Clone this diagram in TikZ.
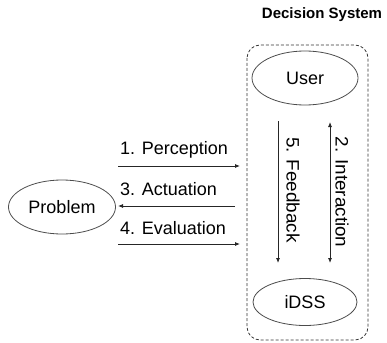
\documentclass[tikz,border=0pt]{standalone}
\usepackage{fontspec}
\setmainfont{Liberation Sans}
\usetikzlibrary{shapes.geometric,arrows.meta}
\begin{document}
\begin{tikzpicture}[x=1pt,y=-1pt,
  ell/.style={draw=black!70,line width=0.8pt,ellipse,inner sep=0pt,font=\fontsize{18}{20}\selectfont},
  lbl/.style={font=\fontsize{18}{20}\selectfont,inner sep=0pt},
  arr/.style={draw=black!85,line width=0.8pt,-{Latex[length=5pt,width=4pt]}},
  darr/.style={draw=black!85,line width=0.8pt,{Latex[length=5pt,width=4pt]}-{Latex[length=5pt,width=4pt]}}]
\useasboundingbox (0,0) rectangle (387,342);
\node[font=\bfseries\fontsize{15}{17}\selectfont,inner sep=0pt] (title) at (322,15) {Decision System};
\draw[black!80,line width=0.8pt,dash pattern=on 3pt off 2pt,rounded corners=13pt] (247,45) rectangle (368,340);
\node[ell,minimum width=106pt,minimum height=54pt] (user) at (305,78) {User};
\node[ell,minimum width=104pt,minimum height=47pt] (idss) at (305,302) {iDSS};
\node[ell,minimum width=107pt,minimum height=54pt] (problem) at (62,207) {Problem};
\coordinate (p1) at (118,166); \coordinate (p2) at (240,166);
\coordinate (a1) at (235,206); \coordinate (a2) at (118,206);
\coordinate (e1) at (118,244); \coordinate (e2) at (240,244);
\coordinate (f1) at (278,121); \coordinate (f2) at (278,263);
\coordinate (i1) at (330,263); \coordinate (i2) at (330,122);
\draw[arr] (p1) -- (p2);
\draw[arr] (a1) -- (a2);
\draw[arr] (e1) -- (e2);
\draw[arr] (f1) -- (f2);
\draw[darr] (i1) -- (i2);
\node[lbl,anchor=west] (lp) at (120,150) {1. Perception};
\node[lbl,anchor=west] (la) at (120,189) {3. Actuation};
\node[lbl,anchor=west] (le) at (120,228) {4. Evaluation};
\node[lbl,rotate=-90,xscale=1.05] (lf) at (293,190) {5. Feedback};
\node[lbl,rotate=-90,xscale=1.05] (li) at (342,192) {2. Interaction};
\end{tikzpicture}
\end{document}
